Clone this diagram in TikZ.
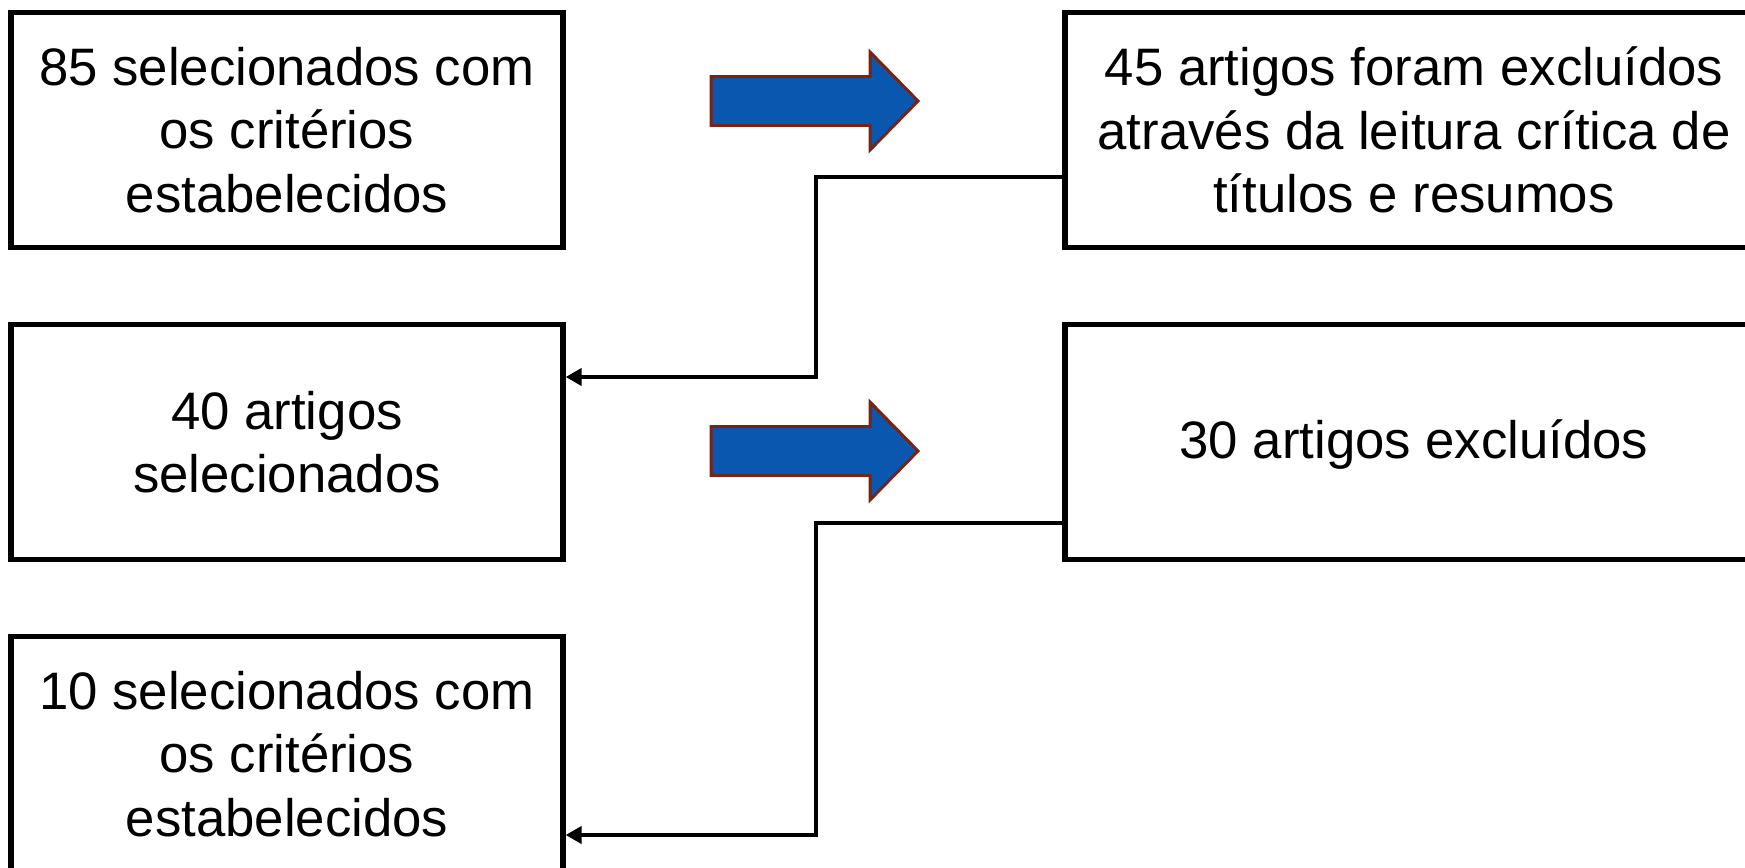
\documentclass[tikz,border=0pt]{standalone}
\usepackage{fontspec}
\setmainfont{Liberation Sans}
\usetikzlibrary{arrows.meta}
\definecolor{arrowblue}{RGB}{10,87,176}
\definecolor{arrowrim}{RGB}{122,35,20}

\begin{document}
\begin{tikzpicture}[auto, node distance = 6.24cm, > = {Triangle[length = 0.32cm, width = 0.34cm]}, font = \fontsize{30}{36}\selectfont]
\tikzset{
  block/.style = {draw, line width = 3pt, fill = white, rectangle, align = center, minimum height = 4.7cm},
  leftblock/.style = {block, minimum width = 11.04cm},
  rightblock/.style = {block, minimum width = 13.96cm},
  link/.style = {line width = 2.6pt},
  bigarrow/.style = {fill = arrowblue, draw = arrowrim, line width = 1.7pt, line join = miter},
}
\useasboundingbox (0,0) rectangle (34.9,-17.36);
\node [leftblock] (found) at (5.74,-2.6) {85 selecionados com\\os critérios\\estabelecidos};
\node [rightblock, right of = found, node distance = 22.54cm] (excludedFirst) {45 artigos foram excluídos\\através da leitura crítica de\\títulos e resumos};
\node [leftblock, below of = found] (selected) {40 artigos\\selecionados};
\node [rightblock, right of = selected, node distance = 22.54cm, text depth = 0.1cm] (excludedSecond) {30 artigos excluídos};
\node [leftblock, below of = selected] (final) {10 selecionados com\\os critérios\\estabelecidos};
\coordinate (bendA) at (16.32,-3.54);
\coordinate (bendB) at (16.32,-7.54);
\coordinate (bendC) at (16.32,-10.46);
\coordinate (bendD) at (16.32,-16.70);
\foreach \y in {-2.02, -9.02}
  \draw [bigarrow] (14.22,\y+0.49) -- (17.40,\y+0.49) -- (17.40,\y+0.98) -- (18.36,\y)
    -- (17.40,\y-0.98) -- (17.40,\y-0.49) -- (14.22,\y-0.49) -- cycle;
\draw [link, ->] (excludedFirst.west |- bendA) -- (bendA) -- (bendB) -- (selected.east |- bendB);
\draw [link, ->] (excludedSecond.west |- bendC) -- (bendC) -- (bendD) -- (final.east |- bendD);
\end{tikzpicture}
\end{document}
